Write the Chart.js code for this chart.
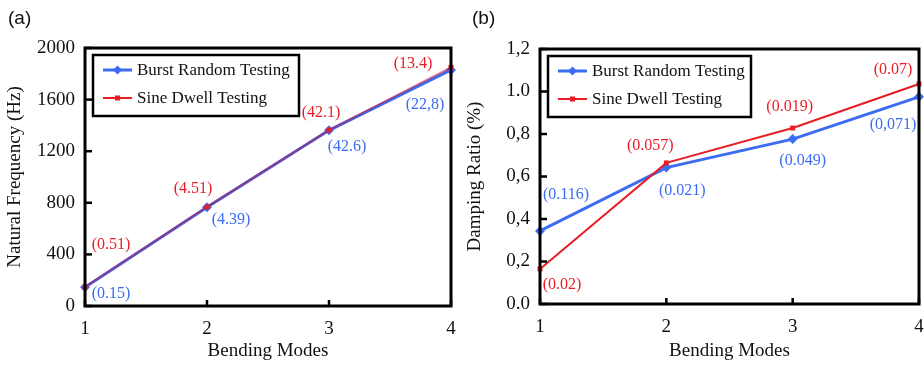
<!DOCTYPE html>
<html lang="en">
<head>
    <meta charset="UTF-8">
    <title>Natural Frequency and Damping Ratio vs Bending Modes</title>
    <script src="https://cdn.jsdelivr.net/npm/chart.js"></script>
    <style>
        * { margin: 0; padding: 0; box-sizing: border-box; }
        body { background: #fff; width: 924px; height: 366px; overflow: hidden; }
        .wrap { display: flex; }
        .panel { position: relative; height: 366px; }
        #panelA { width: 460px; }
        #panelB { width: 464px; }
    </style>
</head>
<body>
<div class="wrap">
    <div class="panel" id="panelA"><canvas id="chartA"></canvas></div>
    <div class="panel" id="panelB"><canvas id="chartB"></canvas></div>
</div>
<script>
    // data
    const modes = [1, 2, 3, 4];
    const seriesNames = ['Burst Random Testing', 'Sine Dwell Testing'];

    const freqBurst = [145, 765, 1362, 1830];
    const freqSine = [147, 768, 1364, 1850];
    const freqBurstNotes = ['(0.15)', '(4.39)', '(42.6)', '(22,8)'];
    const freqSineNotes = ['(0.51)', '(4.51)', '(42.1)', '(13.4)'];
    const freqTicks = [0, 400, 800, 1200, 1600, 2000];

    const dampBurst = [0.344, 0.642, 0.776, 0.975];
    const dampSine = [0.165, 0.664, 0.828, 1.035];
    const dampBurstNotes = ['(0.116)', '(0.021)', '(0.049)', '(0,071)'];
    const dampSineNotes = ['(0.02)', '(0.057)', '(0.019)', '(0.07)'];
    const dampTicks = ['0.0', '0,2', '0,4', '0,6', '0,8', '1.0', '1,2'];

    const BLUE = '#3b6cf2';
    const RED = '#ea1c24';
    const SERIF = '"Liberation Serif", "Times New Roman", serif';

    const toPts = ys => modes.map((m, i) => ({ x: m, y: ys[i] }));

    // frame, inward ticks, panel letter, legend and value notes
    const decor = {
        id: 'decor',
        afterDatasetsDraw(chart, args, o) {
            const { ctx, chartArea: a, scales } = chart;
            ctx.save();
            ctx.strokeStyle = '#000';
            ctx.lineWidth = 3;
            ctx.strokeRect(a.left, a.top, a.right - a.left, a.bottom - a.top);
            ctx.lineWidth = 2.5;
            scales.x.ticks.forEach(t => {
                const px = scales.x.getPixelForValue(t.value);
                ctx.beginPath(); ctx.moveTo(px, a.bottom); ctx.lineTo(px, a.bottom - 6); ctx.stroke();
            });
            scales.y.ticks.forEach(t => {
                const py = scales.y.getPixelForValue(t.value);
                ctx.beginPath(); ctx.moveTo(a.left, py); ctx.lineTo(a.left + 7, py); ctx.stroke();
            });

            // panel letter
            ctx.fillStyle = '#111';
            ctx.font = '19px "Liberation Sans", Arial, sans-serif';
            ctx.textAlign = 'left';
            ctx.textBaseline = 'middle';
            ctx.fillText(o.letter, o.letterX, 19);

            // legend box
            const lx = a.left + o.legX, ly = a.top + 7, lw = o.legW, lh = 61;
            ctx.fillStyle = '#fff';
            ctx.fillRect(lx, ly, lw, lh);
            ctx.lineWidth = 2.5;
            ctx.strokeStyle = '#000';
            ctx.strokeRect(lx, ly, lw, lh);
            ctx.font = '17px ' + SERIF;
            chart.data.datasets.forEach((ds, i) => {
                const ry = ly + 15 + i * 28;
                ctx.strokeStyle = ds.legendColor;
                ctx.lineWidth = i === 0 ? 3 : 2;
                ctx.beginPath(); ctx.moveTo(lx + 10, ry); ctx.lineTo(lx + 39, ry); ctx.stroke();
                ctx.fillStyle = ds.legendColor;
                if (i === 0) {
                    ctx.beginPath();
                    ctx.moveTo(lx + 24.5, ry - 4.5); ctx.lineTo(lx + 29, ry);
                    ctx.lineTo(lx + 24.5, ry + 4.5); ctx.lineTo(lx + 20, ry);
                    ctx.closePath(); ctx.fill();
                } else {
                    ctx.fillRect(lx + 22, ry - 2.5, 5, 5);
                }
                ctx.fillStyle = '#111';
                ctx.fillText(ds.label, lx + 44, ry + 1);
            });

            // value notes, placed relative to each data point
            ctx.font = '16px ' + SERIF;
            ctx.textAlign = 'center';
            chart.data.datasets.forEach((ds, di) => {
                const meta = chart.getDatasetMeta(di);
                ds.notes.forEach((txt, i) => {
                    const p = meta.data[i];
                    const off = ds.noteOffsets[i];
                    ctx.fillStyle = ds.legendColor;
                    ctx.fillText(txt, p.x + off[0], p.y + off[1]);
                });
            });
            ctx.restore();
        }
    };

    function makeChart(id, cfg) {
        return new Chart(document.getElementById(id), {
            type: 'line',
            data: {
                datasets: [
                    {
                        label: seriesNames[0],
                        data: toPts(cfg.burst),
                        borderColor: BLUE,
                        backgroundColor: BLUE,
                        legendColor: BLUE,
                        borderWidth: 3,
                        pointStyle: 'rectRot',
                        pointRadius: 5,
                        pointBorderWidth: 0,
                        notes: cfg.burstNotes,
                        noteOffsets: cfg.burstOff,
                        tension: 0,
                        clip: false,
                        order: 2
                    },
                    {
                        label: seriesNames[1],
                        data: toPts(cfg.sine),
                        borderColor: cfg.sineLine,
                        backgroundColor: RED,
                        legendColor: RED,
                        borderWidth: 2,
                        pointStyle: 'rect',
                        pointRadius: 3.5,
                        pointBorderWidth: 0,
                        notes: cfg.sineNotes,
                        noteOffsets: cfg.sineOff,
                        tension: 0,
                        clip: false,
                        order: 1
                    }
                ]
            },
            options: {
                responsive: true,
                maintainAspectRatio: false,
                animation: false,
                layout: { padding: { top: cfg.top, right: cfg.right, left: 0, bottom: 0 } },
                plugins: {
                    legend: { display: false },
                    tooltip: { enabled: false },
                    decor: { letter: cfg.letter, letterX: cfg.letterX, legX: cfg.legX, legW: cfg.legW }
                },
                scales: {
                    x: {
                        type: 'linear',
                        min: modes[0],
                        max: modes[modes.length - 1],
                        grid: { display: false, drawTicks: false },
                        border: { display: false },
                        ticks: { stepSize: 1, color: '#111', padding: 12, font: { family: SERIF, size: 19 } },
                        title: { display: true, text: 'Bending Modes', color: '#111', padding: { top: 0 }, font: { family: SERIF, size: 19 } },
                        afterFit(s) { s.height = cfg.xH; s.paddingLeft = 0; s.paddingRight = 0; }
                    },
                    y: {
                        min: cfg.yMin,
                        max: cfg.yMax,
                        grid: { display: false, drawTicks: false },
                        border: { display: false },
                        ticks: {
                            stepSize: cfg.yStep,
                            color: '#111',
                            padding: 10,
                            font: { family: SERIF, size: 19 },
                            callback: cfg.tickLabel
                        },
                        title: { display: true, text: cfg.yTitle, color: '#111', padding: { bottom: 0 }, font: { family: SERIF, size: 19 } },
                        afterFit(s) { s.width = cfg.yW; s.paddingTop = 0; s.paddingBottom = 0; }
                    }
                }
            },
            plugins: [decor]
        });
    }

    makeChart('chartA', {
        letter: '(a)', letterX: 8, legX: 8, legW: 206,
        top: 48, right: 9, xH: 60, yW: 85,
        yMin: freqTicks[0], yMax: freqTicks[freqTicks.length - 1], yStep: 400,
        tickLabel: v => String(v),
        yTitle: 'Natural Frequency (Hz)',
        burst: freqBurst, sine: freqSine,
        sineLine: 'rgba(200, 20, 60, 0.55)',
        burstNotes: freqBurstNotes, sineNotes: freqSineNotes,
        burstOff: [[26, 7], [24, 12], [18, 16], [-26, 35]],
        sineOff: [[26, -42], [-14, -18], [-8, -17], [-38, -4]]
    });

    makeChart('chartB', {
        letter: '(b)', letterX: 12, legX: 8, legW: 203,
        top: 49, right: 3, xH: 62, yW: 80,
        yMin: 0, yMax: 1.2, yStep: 0.2,
        tickLabel: (v, i) => dampTicks[i],
        yTitle: 'Damping Ratio (%)',
        burst: dampBurst, sine: dampSine,
        sineLine: RED,
        burstNotes: dampBurstNotes, sineNotes: dampSineNotes,
        burstOff: [[26, -36], [16, 23], [10, 22], [-26, 28]],
        sineOff: [[22, 16], [-16, -17], [-3, -21], [-26, -14]]
    });
</script>
</body>
</html>
